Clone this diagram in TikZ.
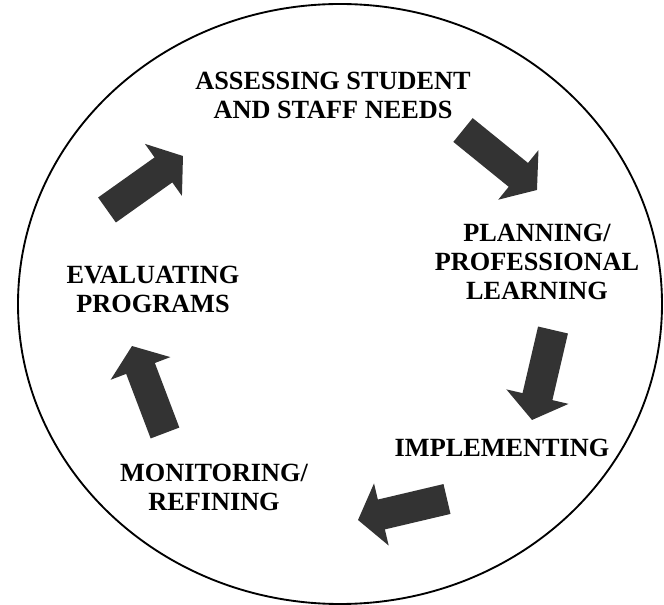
\documentclass[tikz,border=0pt]{standalone}
\usepackage{fontspec}
\setmainfont{Liberation Serif}
\usepackage{tikz}
\usetikzlibrary{arrows.meta}

\tikzset{
  stage/.style={align=center, inner sep=0pt, font=\fontsize{19.7pt}{21.7pt}\selectfont\bfseries},
  cyclearrow/.style={line width=23pt, draw=black!80, -{Triangle[length=18pt, width=47pt]}}
}

\begin{document}
\begin{tikzpicture}[x=0.75pt, y=-0.75pt]
\useasboundingbox (0,0) rectangle (664,605);
\draw [line width=1.4pt] (340,304) ellipse [x radius=241.5pt, y radius=225pt];
% the five stages
\node[stage] (assess) at (333,95) {ASSESSING STUDENT\\AND STAFF NEEDS};
\node[stage] (plan) at (537,262) {PLANNING/\\PROFESSIONAL\\LEARNING};
\node[stage] (impl) at (502,448) {IMPLEMENTING};
\node[stage] (monit) at (214,487) {MONITORING/\\REFINING};
\node[stage] (eval) at (153,289) {EVALUATING\\PROGRAMS};
% block arrows between the stages
\coordinate (t1) at (107,210);
\coordinate (h1) at (183,156);
\coordinate (t2) at (463,130);
\coordinate (h2) at (537,190);
\coordinate (t3) at (553,330);
\coordinate (h3) at (532,420);
\coordinate (t4) at (447,499);
\coordinate (h4) at (358,520);
\coordinate (t5) at (165,433);
\coordinate (h5) at (132,346);
\draw[cyclearrow] (t1)--(h1);
\draw[cyclearrow] (t2)--(h2);
\draw[cyclearrow] (t3)--(h3);
\draw[cyclearrow] (t4)--(h4);
\draw[cyclearrow] (t5)--(h5);
\end{tikzpicture}
\end{document}
